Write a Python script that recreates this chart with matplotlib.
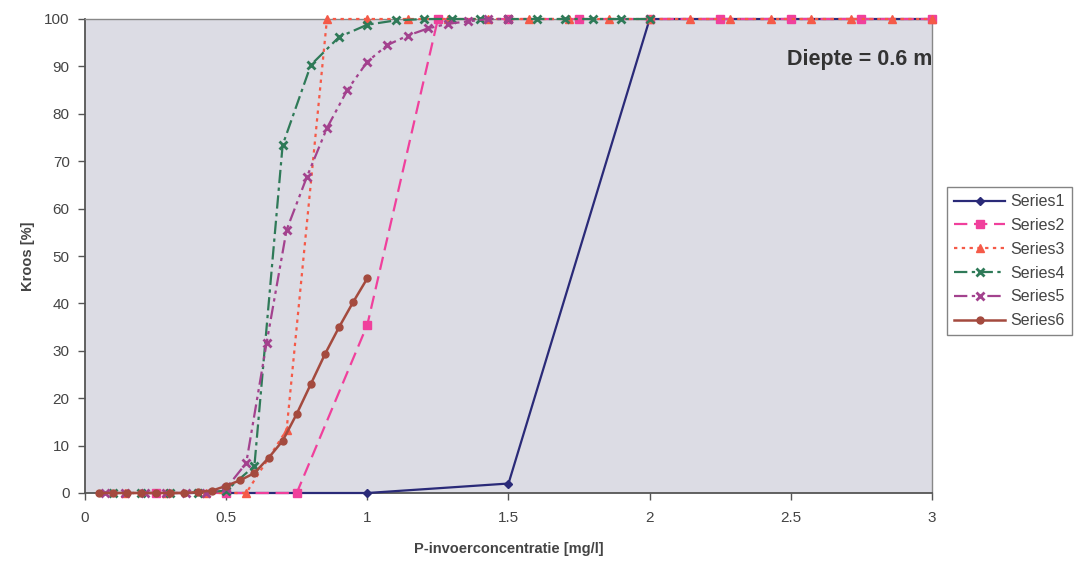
import matplotlib
matplotlib.use("Agg")
import matplotlib.pyplot as plt

plt.rcParams['font.family'] = ['Liberation Sans', 'DejaVu Sans']

# ---- data ----
s1_x = [0.5, 1.0, 1.5, 2.0, 2.5, 3.0]
s1_y = [0, 0, 2, 100, 100, 100]

s2_x = [0.25, 0.5, 0.75, 1.0, 1.25, 1.5, 1.75, 2.0, 2.25, 2.5, 2.75, 3.0]
s2_y = [0, 0, 0, 35.5, 100, 100, 100, 100, 100, 100, 100, 100]

s3_x = [0.143, 0.286, 0.429, 0.571, 0.714, 0.857, 1.0, 1.143, 1.286, 1.429,
        1.571, 1.714, 1.857, 2.0, 2.143, 2.286, 2.429, 2.571, 2.714, 2.857, 3.0]
s3_y = [0, 0, 0, 0, 13.3, 100, 100, 100, 100, 100,
        100, 100, 100, 100, 100, 100, 100, 100, 100, 100, 100]

s4_x = [0.1, 0.2, 0.3, 0.4, 0.5, 0.6, 0.7, 0.8, 0.9, 1.0, 1.1, 1.2, 1.3, 1.4,
        1.5, 1.6, 1.7, 1.8, 1.9, 2.0]
s4_y = [0, 0, 0, 0, 0.5, 5.7, 73.4, 90.3, 96.2, 98.8, 99.7, 100, 100, 100,
        100, 100, 100, 100, 100, 100]

s5_x = [0.071, 0.143, 0.214, 0.286, 0.357, 0.429, 0.5, 0.571, 0.643, 0.714,
        0.786, 0.857, 0.929, 1.0, 1.071, 1.143, 1.214, 1.286, 1.357, 1.429, 1.5]
s5_y = [0, 0, 0, 0, 0, 0, 1.0, 6.3, 31.6, 55.5,
        66.7, 77, 85, 91, 94.5, 96.5, 98, 99, 99.5, 100, 100]

s6_x = [0.05, 0.1, 0.15, 0.2, 0.25, 0.3, 0.35, 0.4, 0.45, 0.5, 0.55, 0.6,
        0.65, 0.7, 0.75, 0.8, 0.85, 0.9, 0.95, 1.0]
s6_y = [0, 0, 0, 0, 0, 0, 0, 0.2, 0.5, 1.5, 2.7, 4.2,
        7.4, 11, 16.7, 23, 29.3, 35, 40.3, 45.3]

series_names = ["Series1", "Series2", "Series3", "Series4", "Series5", "Series6"]
x_ticks = [0, 0.5, 1, 1.5, 2, 2.5, 3]
x_tick_labels = ["0", "0.5", "1", "1.5", "2", "2.5", "3"]
y_ticks = [0, 10, 20, 30, 40, 50, 60, 70, 80, 90, 100]

# ---- figure ----
fig = plt.figure(figsize=(10.79, 5.67), dpi=100)
fig.patch.set_facecolor("white")
ax = fig.add_axes([85/1079, 74/567, 847/1079, 474/567])
ax.set_facecolor("#dcdce4")

common = dict(zorder=3, clip_on=False)
ax.plot(s1_x, s1_y, color="#2a2a78", lw=1.6, ls="-", marker="D", ms=4.5,
        label=series_names[0], **common)
ax.plot(s2_x, s2_y, color="#f0409c", lw=1.6, ls=(0, (6, 3)), marker="s", ms=5.5,
        label=series_names[1], **common)
ax.plot(s3_x, s3_y, color="#f55a48", lw=1.6, ls=(0, (1.5, 2)), marker="^", ms=6,
        label=series_names[2], **common)
ax.plot(s4_x, s4_y, color="#2f7a58", lw=1.6, ls=(0, (6, 2, 1.5, 2)), marker="x", ms=6,
        mew=2, label=series_names[3], **common)
ax.plot(s5_x, s5_y, color="#a3428e", lw=1.6, ls=(0, (6, 2, 1.5, 2, 1.5, 2)), marker="x",
        ms=6, mew=2, label=series_names[4], **common)
ax.plot(s6_x, s6_y, color="#a44a3e", lw=1.8, ls="-", marker="o", ms=5,
        label=series_names[5], **common)

ax.set_xlim(0, 3)
ax.set_ylim(0, 100)
ax.set_xticks(x_ticks)
ax.set_xticklabels(x_tick_labels)
ax.set_yticks(y_ticks)
ax.tick_params(axis="both", direction="out", length=5, width=1, colors="#555555",
               labelsize=11, labelcolor="#444444")
ax.tick_params(axis="x", pad=8)
ax.tick_params(axis="y", pad=6)

for side in ["left", "bottom"]:
    ax.spines[side].set_color("#555555")
    ax.spines[side].set_linewidth(1.3)
for side in ["top", "right"]:
    ax.spines[side].set_color("#888888")
    ax.spines[side].set_linewidth(1.0)

ax.set_xlabel("P-invoerconcentratie [mg/l]", fontsize=10.5, fontweight="bold",
              color="#444444", labelpad=12)
ax.set_ylabel("Kroos [%]", fontsize=10.5, fontweight="bold", color="#444444",
              labelpad=7)

ax.text(1.0, 0.915, "Diepte = 0.6 m", transform=ax.transAxes, ha="right", va="center",
        fontsize=15.5, fontweight="bold", color="#333333")

leg = fig.legend(loc="upper left", bbox_to_anchor=(947/1079, 1 - 187/567),
                 borderaxespad=0.0,
                 fontsize=11.5, frameon=True, fancybox=False, edgecolor="#666666",
                 handlelength=3.2, labelspacing=0.55, borderpad=0.45, handletextpad=0.3)
leg.get_frame().set_linewidth(1.0)
for t in leg.get_texts():
    t.set_color("#444444")

fig.savefig("out.png", dpi=100)
